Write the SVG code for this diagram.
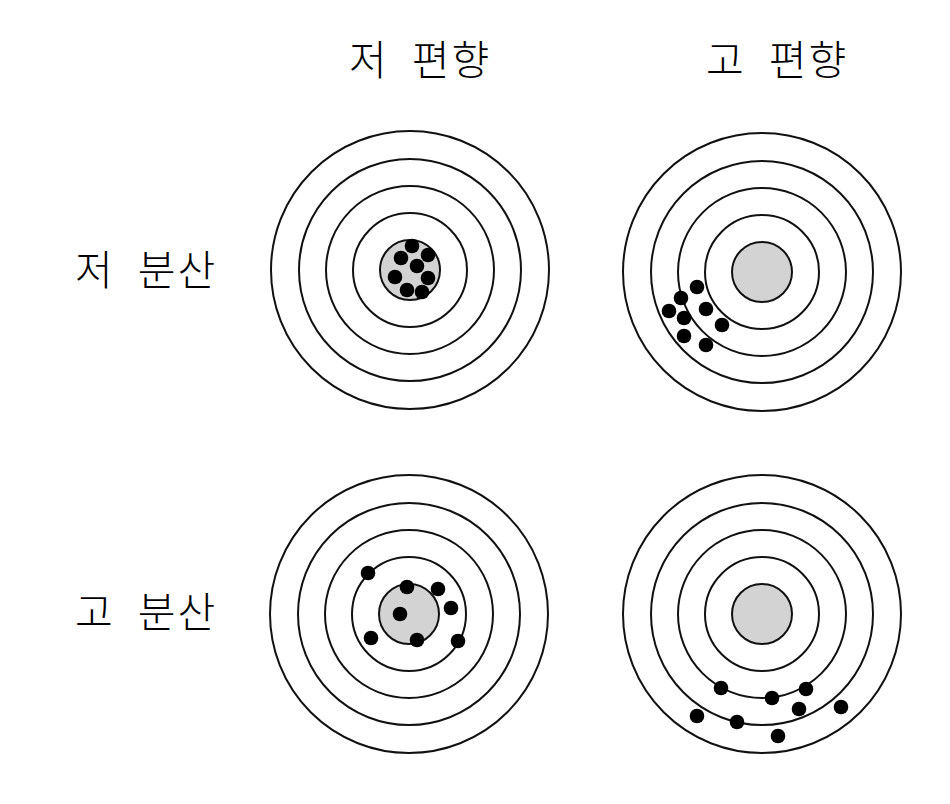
<svg xmlns="http://www.w3.org/2000/svg" width="950" height="804" viewBox="0 0 950 804">
<style>
.ring{fill:none;stroke:#111;stroke-width:2}
.bull{fill:#d3d3d3;stroke:#111;stroke-width:2}
.dot{fill:#000}
.lbl{font-family:"Noto Sans CJK KR","Noto Sans",sans-serif;font-size:41px;font-weight:300;fill:#000;text-anchor:middle;word-spacing:12px;letter-spacing:2px}
</style>
<defs>
<g id="target">
<circle class="ring" r="139"/>
<circle class="ring" r="111"/>
<circle class="ring" r="84"/>
<circle class="ring" r="57"/>
<circle class="bull" r="30"/>
</g>
</defs>
<rect width="950" height="804" fill="#fff"/>
<g id="labels">
<text class="lbl" x="420" y="75">저 편향</text>
<text class="lbl" x="777" y="75">고 편향</text>
<text class="lbl" x="146" y="285">저 분산</text>
<text class="lbl" x="146" y="627">고 분산</text>
</g>
<g id="target-low-bias-low-var">
<use href="#target" x="410" y="270"/>
<circle class="dot" cx="412" cy="246" r="7.3"/>
<circle class="dot" cx="428" cy="255" r="7.3"/>
<circle class="dot" cx="401" cy="258" r="7.3"/>
<circle class="dot" cx="417" cy="266" r="7.3"/>
<circle class="dot" cx="395" cy="277" r="7.3"/>
<circle class="dot" cx="428" cy="278" r="7.3"/>
<circle class="dot" cx="407" cy="290" r="7.3"/>
<circle class="dot" cx="422" cy="292" r="7.3"/>
</g>
<g id="target-high-bias-low-var">
<use href="#target" x="762" y="272"/>
<circle class="dot" cx="697" cy="287" r="7.3"/>
<circle class="dot" cx="681" cy="298" r="7.3"/>
<circle class="dot" cx="706" cy="309" r="7.3"/>
<circle class="dot" cx="669" cy="311" r="7.3"/>
<circle class="dot" cx="684" cy="318" r="7.3"/>
<circle class="dot" cx="722" cy="325" r="7.3"/>
<circle class="dot" cx="684" cy="336" r="7.3"/>
<circle class="dot" cx="706" cy="345" r="7.3"/>
</g>
<g id="target-low-bias-high-var">
<use href="#target" x="409" y="614"/>
<circle class="dot" cx="368" cy="573" r="7.3"/>
<circle class="dot" cx="407" cy="587" r="7.3"/>
<circle class="dot" cx="438" cy="589" r="7.3"/>
<circle class="dot" cx="451" cy="608" r="7.3"/>
<circle class="dot" cx="400" cy="614" r="7.3"/>
<circle class="dot" cx="371" cy="638" r="7.3"/>
<circle class="dot" cx="417" cy="640" r="7.3"/>
<circle class="dot" cx="458" cy="641" r="7.3"/>
</g>
<g id="target-high-bias-high-var">
<use href="#target" x="762" y="614"/>
<circle class="dot" cx="721" cy="688" r="7.3"/>
<circle class="dot" cx="772" cy="698" r="7.3"/>
<circle class="dot" cx="806" cy="689" r="7.3"/>
<circle class="dot" cx="799" cy="709" r="7.3"/>
<circle class="dot" cx="841" cy="707" r="7.3"/>
<circle class="dot" cx="697" cy="716" r="7.3"/>
<circle class="dot" cx="737" cy="722" r="7.3"/>
<circle class="dot" cx="778" cy="736" r="7.3"/>
</g>
</svg>
